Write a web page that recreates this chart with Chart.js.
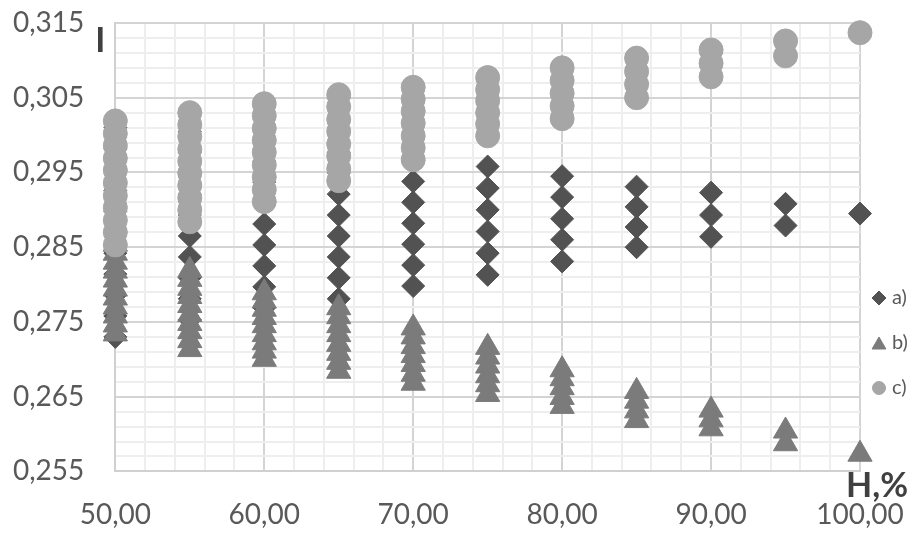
<!DOCTYPE html>
<html>
<head>
<meta charset="utf-8">
<script src="https://cdn.jsdelivr.net/npm/chart.js@4.4.1/dist/chart.umd.min.js"></script>
<style>
    html, body { margin: 0; padding: 0; background: #ffffff; }
</style>
</head>
<body>
<canvas id="scatter" width="917" height="534"></canvas>
<script>
// H, % - one column of points for every humidity step
const humidity = [50, 55, 60, 65, 70, 75, 80, 85, 90, 95, 100];

// I for each humidity column, top to bottom
const seriesA = [
    [0.3010, 0.2982, 0.2954, 0.2926, 0.2898, 0.2870, 0.2842, 0.2814, 0.2786, 0.2758, 0.2730],
    [0.3005, 0.2977, 0.2949, 0.2921, 0.2893, 0.2865, 0.2837, 0.2809, 0.2781, 0.2753],
    [0.2993, 0.2965, 0.2937, 0.2909, 0.2881, 0.2853, 0.2825, 0.2797, 0.2769],
    [0.2977, 0.2949, 0.2921, 0.2893, 0.2865, 0.2837, 0.2809, 0.2781],
    [0.2966, 0.2938, 0.2910, 0.2882, 0.2854, 0.2826, 0.2798],
    [0.2958, 0.2929, 0.2900, 0.2871, 0.2842, 0.2813],
    [0.2945, 0.2917, 0.2888, 0.2860, 0.2831],
    [0.2931, 0.2904, 0.2877, 0.2850],
    [0.2923, 0.2893, 0.2864],
    [0.2908, 0.2879],
    [0.2895]
];

const seriesB = [
    [0.2854, 0.2842, 0.2830, 0.2818, 0.2806, 0.2794, 0.2782, 0.2770, 0.2758, 0.2746, 0.2734],
    [0.2819, 0.2807, 0.2795, 0.2784, 0.2772, 0.2760, 0.2748, 0.2737, 0.2725, 0.2713],
    [0.2789, 0.2778, 0.2767, 0.2756, 0.2745, 0.2733, 0.2722, 0.2711, 0.2700],
    [0.2769, 0.2757, 0.2745, 0.2733, 0.2720, 0.2708, 0.2696, 0.2684],
    [0.2742, 0.2730, 0.2717, 0.2705, 0.2693, 0.2680, 0.2668],
    [0.2716, 0.2703, 0.2691, 0.2678, 0.2666, 0.2653],
    [0.2686, 0.2674, 0.2662, 0.2649, 0.2637],
    [0.2657, 0.2644, 0.2631, 0.2618],
    [0.2632, 0.2619, 0.2607],
    [0.2604, 0.2587],
    [0.2573]
];

const seriesC = [
    [0.3019, 0.3002, 0.2986, 0.2969, 0.2953, 0.2936, 0.2919, 0.2903, 0.2886, 0.2870, 0.2853],
    [0.3030, 0.3014, 0.2998, 0.2981, 0.2965, 0.2949, 0.2933, 0.2916, 0.2900, 0.2884],
    [0.3042, 0.3026, 0.3009, 0.2993, 0.2977, 0.2960, 0.2944, 0.2927, 0.2911],
    [0.3054, 0.3038, 0.3021, 0.3005, 0.2988, 0.2972, 0.2955, 0.2939],
    [0.3064, 0.3048, 0.3032, 0.3016, 0.2999, 0.2983, 0.2967],
    [0.3077, 0.3061, 0.3046, 0.3030, 0.3015, 0.2999],
    [0.3090, 0.3073, 0.3056, 0.3039, 0.3022],
    [0.3103, 0.3085, 0.3068, 0.3050],
    [0.3114, 0.3096, 0.3078],
    [0.3126, 0.3106],
    [0.3137]
];

const seriesLabels = ['a)', 'b)', 'c)'];

const Y_MIN = 0.255, Y_MAX = 0.315, Y_STEP = 0.002;
const X_MIN = 50, X_MAX = 100, X_STEP = 2;

const textColor = '#595959';
const fontFamily = 'Lato, "Open Sans", sans-serif';

function toPoints(columns) {
    let pts = [];
    humidity.forEach(function (h, i) {
        columns[i].forEach(function (v) {
            pts.push({ x: h, y: v });
        });
    });
    return pts;
}

function isMajorY(v) {
    return Math.round((v - Y_MIN) / Y_STEP) % 5 === 0;
}
function isMajorX(v) {
    return Math.round((v - X_MIN) / X_STEP) % 5 === 0;
}

// legend on the right, a little below the middle
const sideLegend = {
    id: 'sideLegend',
    afterDraw: function (chart) {
        const ctx = chart.ctx;
        const area = chart.chartArea;
        const x = area.right + 19;
        ctx.save();
        ctx.font = '20px ' + fontFamily;
        ctx.textBaseline = 'middle';
        chart.data.datasets.forEach(function (ds, i) {
            const y = area.top + 275 + i * 45;
            ctx.fillStyle = ds.backgroundColor;
            ctx.strokeStyle = ds.borderColor;
            Chart.helpers.drawPoint(ctx, {
                pointStyle: ds.pointStyle,
                radius: ds.legendRadius,
                borderWidth: 1,
                rotation: 0
            }, x, y + (ds.pointStyle === 'triangle' ? 2 : 0));
            ctx.fillStyle = textColor;
            ctx.fillText(ds.label, x + 13, y);
        });
        ctx.restore();
    }
};

// the axis names "I" and "H,%" sit at the corners of the plot
const axisNames = {
    id: 'axisNames',
    afterDraw: function (chart) {
        const ctx = chart.ctx;
        const area = chart.chartArea;
        ctx.save();
        ctx.fillStyle = '#404040';
        ctx.font = 'bold 34px ' + fontFamily;
        ctx.textBaseline = 'middle';
        ctx.textAlign = 'center';
        ctx.fillText('I', area.left - 15, area.top + 18);
        ctx.textAlign = 'right';
        ctx.fillText('H,%', area.right + 48, area.bottom + 15);
        ctx.restore();
    }
};

const chart = new Chart(document.getElementById('scatter'), {
    type: 'scatter',
    data: {
        datasets: [
            {
                label: seriesLabels[0],
                data: toPoints(seriesA),
                pointStyle: 'rectRot',
                pointRadius: 11.5,
                legendRadius: 7,
                backgroundColor: '#525252',
                borderColor: '#525252',
                borderWidth: 1,
                clip: false,
                order: 3
            },
            {
                label: seriesLabels[1],
                data: toPoints(seriesB),
                pointStyle: 'triangle',
                pointRadius: 14,
                legendRadius: 8,
                backgroundColor: '#7b7b7b',
                borderColor: '#7b7b7b',
                borderWidth: 1,
                clip: false,
                order: 2
            },
            {
                label: seriesLabels[2],
                data: toPoints(seriesC),
                pointStyle: 'circle',
                pointRadius: 12,
                legendRadius: 6.5,
                backgroundColor: '#a6a6a6',
                borderColor: '#a6a6a6',
                borderWidth: 1,
                clip: false,
                order: 1
            }
        ]
    },
    options: {
        responsive: false,
        animation: false,
        events: [],
        layout: {
            autoPadding: false,
            padding: { left: 11, right: 57, top: 23, bottom: 0 }
        },
        plugins: {
            legend: { display: false },
            tooltip: { enabled: false }
        },
        scales: {
            x: {
                type: 'linear',
                min: X_MIN,
                max: X_MAX,
                border: { color: '#d0d0d0', width: 2 },
                grid: {
                    lineWidth: 2,
                    tickLength: 25,
                    tickColor: 'rgba(0,0,0,0)',
                    color: function (c) {
                        return isMajorX(c.tick.value) ? '#d4d4d4' : '#eeeeee';
                    }
                },
                ticks: {
                    stepSize: X_STEP,
                    autoSkip: false,
                    maxRotation: 0,
                    padding: 2,
                    color: textColor,
                    font: { family: fontFamily, size: 28 },
                    callback: function (v) {
                        return isMajorX(v) ? v.toFixed(2).replace('.', ',') : '';
                    }
                }
            },
            y: {
                min: Y_MIN,
                max: Y_MAX,
                border: { color: '#d0d0d0', width: 2 },
                grid: {
                    lineWidth: 2,
                    tickLength: 29,
                    tickColor: 'rgba(0,0,0,0)',
                    color: function (c) {
                        return isMajorY(c.tick.value) ? '#d4d4d4' : '#eeeeee';
                    }
                },
                ticks: {
                    stepSize: Y_STEP,
                    autoSkip: false,
                    padding: 2,
                    color: textColor,
                    font: { family: fontFamily, size: 28 },
                    callback: function (v) {
                        return isMajorY(v) ? v.toFixed(3).replace('.', ',') : '';
                    }
                }
            }
        }
    },
    plugins: [sideLegend, axisNames]
});
</script>
</body>
</html>
